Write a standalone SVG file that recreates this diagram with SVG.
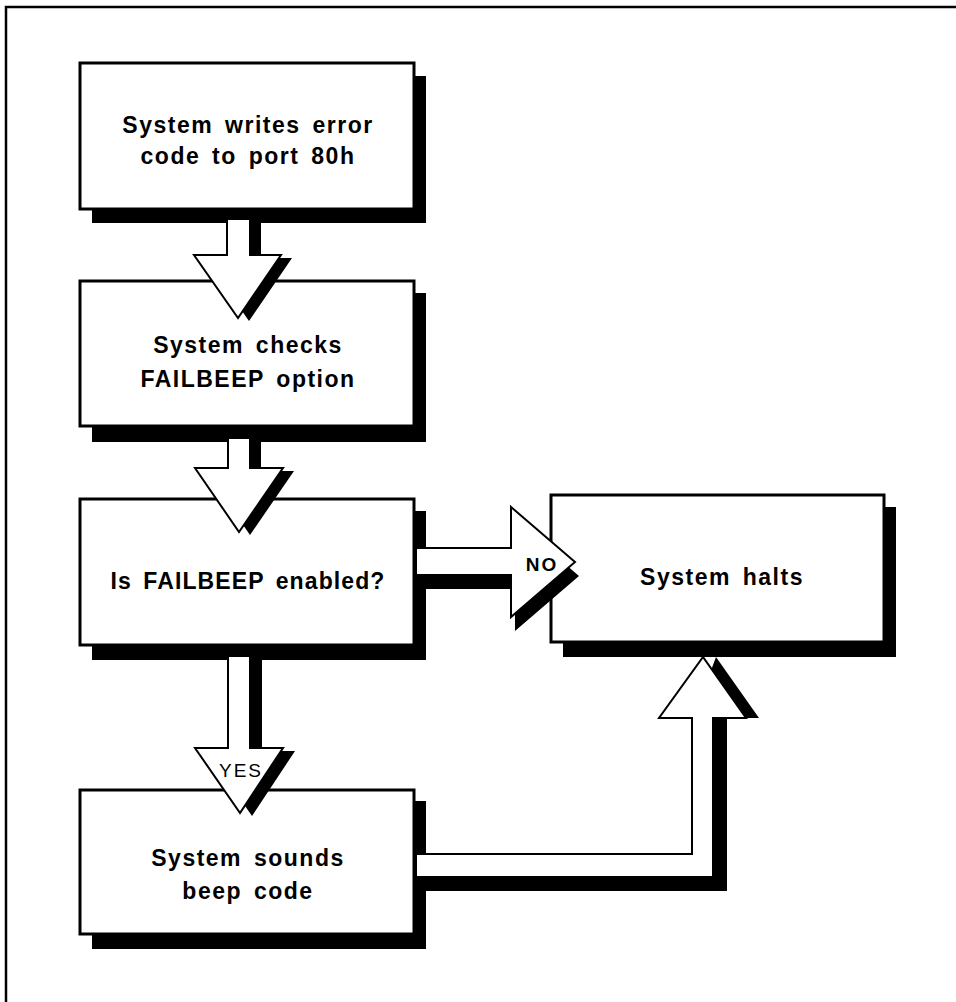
<svg xmlns="http://www.w3.org/2000/svg" width="956" height="1002" viewBox="0 0 956 1002">
<style>
.frame{fill:none;stroke:#000;stroke-width:2.5}
.box{fill:#fff;stroke:#000;stroke-width:3}
.sh{fill:#000}
.arr{fill:#fff;stroke:#000;stroke-width:2;stroke-linejoin:miter}
.t{font-family:"Liberation Sans",Arial,sans-serif;font-weight:bold;font-size:23px;letter-spacing:1.5px;word-spacing:4px;text-anchor:middle;fill:#000}
.lbl{font-family:"Liberation Sans",Arial,sans-serif;font-size:19px;letter-spacing:2px;text-anchor:middle;fill:#000}
</style>
<rect width="956" height="1002" fill="#fff"/>
<path class="frame" d="M6,1002 V7 H956"/>

<g id="node-write">
<rect class="sh" x="92" y="76" width="334" height="147"/>
<rect class="box" x="80" y="63" width="334" height="146"/>
<text class="t" x="248" y="133">System writes error</text>
<text class="t" x="248" y="164">code to port 80h</text>
</g>

<g id="node-check">
<rect class="sh" x="92" y="293" width="334" height="149"/>
<rect class="box" x="80" y="281" width="334" height="145"/>
<text class="t" x="248" y="353">System checks</text>
<text class="t" x="248" y="387">FAILBEEP option</text>
</g>

<g id="node-enabled">
<rect class="sh" x="92" y="511" width="334" height="149"/>
<rect class="box" x="80" y="499" width="334" height="146"/>
<text class="t" x="248" y="589" style="letter-spacing:1.1px">Is FAILBEEP enabled?</text>
</g>

<g id="node-beep">
<rect class="sh" x="92" y="801" width="334" height="148"/>
<rect class="box" x="80" y="790" width="334" height="144"/>
<text class="t" x="248" y="866">System sounds</text>
<text class="t" x="248" y="899">beep code</text>
</g>

<g id="node-halt">
<rect class="sh" x="563" y="507" width="333" height="150"/>
<rect class="box" x="551" y="495" width="333" height="147"/>
<text class="t" x="722" y="585">System halts</text>
</g>

<g id="connectors">
<g id="c1">
<polygon class="sh" transform="translate(11,3)" points="227,219 250,219 250,255 281,255 238,318 194,255 227,255"/>
<polygon class="arr" points="227,219 250,219 250,255 281,255 238,318 194,255 227,255"/>
</g>
<g id="c2">
<polygon class="sh" transform="translate(11,3)" points="228,438 250,438 250,468 283,468 239,532 195,468 228,468"/>
<polygon class="arr" points="228,438 250,438 250,468 283,468 239,532 195,468 228,468"/>
</g>
<g id="c-yes">
<polygon class="sh" transform="translate(12,3)" points="228,656 250,656 250,748 283,748 240,813 195,748 228,748"/>
<polygon class="arr" points="228,656 250,656 250,748 283,748 240,813 195,748 228,748"/>
<text class="lbl" x="241" y="777">YES</text>
</g>
<g id="c-no">
<polygon class="sh" transform="translate(4,14)" points="416,548 511,548 511,507 575,562 511,617 511,575 416,575"/>
<polygon class="arr" points="416,548 511,548 511,507 575,562 511,617 511,575 416,575"/>
<text class="lbl" x="542" y="571" style="font-weight:bold">NO</text>
</g>
<g id="c-beep-halt">
<polygon class="sh" points="716,657 759,718 727,718 727,891 414,891 414,864 700,864 700,700"/>
<polygon class="arr" points="416,854 692,854 692,718 659,718 703,657 746,718 713,718 713,877 416,877"/>
</g>
</g>
</svg>
